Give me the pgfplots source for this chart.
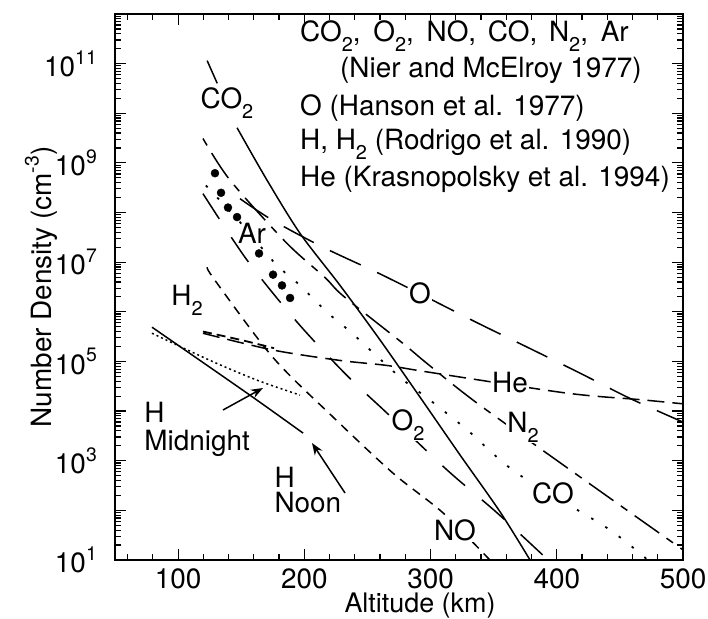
\documentclass[border=0pt]{standalone}
\usepackage{fontspec}
\setmainfont{TeX Gyre Heros}
\usepackage{pgfplots}
\pgfplotsset{compat=1.18}
\usetikzlibrary{arrows.meta}
\newcommand\sups[1]{\raisebox{0.45em}{\fontsize{19.5}{20}\selectfont #1}}
\newcommand\sub[1]{\raisebox{-0.35em}{\fontsize{20}{20}\selectfont #1}}
\begin{document}
\fontsize{28}{30}\selectfont
\begin{tikzpicture}[x=1bp,y=1bp]
\useasboundingbox (0,0) rectangle (708,619);
\begin{axis}[
 at={(115bp,59bp)}, anchor=south west, scale only axis,
 width=568bp, height=546bp,
 ymode=log, xmin=50, xmax=500, ymin=1e1, ymax=1e12,
 xtick={100,200,300,400,500}, xticklabels={100,200,300,400,500},
 minor xtick={60,80,...,480},
 ytick={1e1,1e2,1e3,1e4,1e5,1e6,1e7,1e8,1e9,1e10,1e11,1e12},
 yticklabels={{10\sups{1}},{},{10\sups{3}},{},{10\sups{5}},{},{10\sups{7}},{},{10\sups{9}},{},{10\sups{11}},{}},
 tick align=inside,
 major tick length=11bp, minor tick length=6bp,
 every tick/.style={black, line width=1.2bp},
 axis line style={line width=2bp},
 ticklabel style={font=\fontsize{28}{30}\selectfont, inner sep=0pt},
 xticklabel style={anchor=north, yshift=-9bp},
 yticklabel style={anchor=east, xshift=-18bp},
 clip=true,
]
% CO2
\addplot[line width=1.5bp, smooth] coordinates {(123,1.15e11) (131,4.0e10)};
\addplot[line width=1.5bp, smooth] coordinates {(146.7,5.1e9) (170.4,4.5e8) (196.6,3.8e7) (228.3,3.4e6) (260,2.7e5) (291.7,1.9e4) (323.4,1.3e3) (355.1,9.3e1) (378.8,1e1)};
% O
\addplot[line width=1.5bp, smooth, dash pattern=on 34bp off 18bp] coordinates {(149,1.9e8) (175.2,6.9e7) (214.8,2.0e7) (257.6,6.2e6) (291.7,2.3e6) (337.6,5.9e5) (377.3,1.9e5) (418.5,5.8e4) (458,1.8e4) (500,6.0e3)};
% O2
\addplot[line width=1.5bp, smooth, dash pattern=on 30bp off 22bp] coordinates {(119.7,2.4e8) (154.6,1.1e7) (195,5.9e5) (233.8,5.2e4) (265.5,9.1e3) (313.1,6.5e2) (352.7,8.9e1) (393.1,1e1)};
% N2
\addplot[line width=1.5bp, smooth, dash pattern=on 8bp off 9bp on 30bp off 9bp] coordinates {(119.7,3.1e9) (141.1,4.5e8) (185.5,2.5e7) (216.4,4.9e6) (230.7,2.1e6) (278.2,2.3e5) (297.2,9.1e4) (336.8,1.45e4) (418.5,4.7e2) (500,1.6e1)};
% CO
\addplot[line width=1.8bp, smooth, dash pattern=on 2.5bp off 14bp] coordinates {(122,3.5e8) (150,6.0e7) (176.8,9.5e6) (196.6,3.4e6) (218,9.8e5) (237.8,3.7e5) (275.8,4.8e4) (299.6,1.66e4) (328.9,4.2e3) (368.5,5.6e2) (439.9,4.4e1) (472,1e1)};
% NO
\addplot[line width=1.5bp, smooth, dash pattern=on 9bp off 7bp] coordinates {(122.9,7.9e6) (129.2,4.3e6) (175.2,1.2e5) (222.7,7.6e3) (270.3,5.6e2) (309.9,8.9e1) (347,1e1)};
% H2
\addplot[line width=1.8bp, smooth, dash pattern=on 9bp off 5bp] coordinates {(119.7,4.0e5) (150,2.7e5) (176,1.85e5)};
% He
\addplot[line width=1.5bp, smooth, dash pattern=on 17bp off 8bp] coordinates {(119.7,3.7e5) (175,1.7e5) (228,1.05e5) (265.5,8.3e4) (300,6.0e4) (408,2.3e4) (466,1.7e4) (500,1.4e4)};
% H noon
\addplot[line width=1.5bp, smooth] coordinates {(79.3,4.9e5) (154.6,2.3e4) (199,3.6e3)};
% H midnight
\addplot[line width=1.5bp, smooth, dash pattern=on 2bp off 3bp] coordinates {(79.3,3.7e5) (125.3,1.05e5) (162.5,4.2e4) (196.6,2.1e4)};
% Ar
\addplot[only marks, mark=*, mark size=4bp] coordinates {(129.2,6.2e8) (134,2.5e8) (139.5,1.26e8) (146.7,8.1e7) (164.1,1.5e7) (175.2,5.6e6) (182.3,3.4e6) (188.7,1.9e6)};
\end{axis}
% axis titles
\node[anchor=base, inner sep=0pt, font=\fontsize{27}{29}\selectfont] at (420,6.5) {Altitude (km)};
\node[rotate=90] at (41,332) {Number Density (cm\sups{-3})};
% curve labels
\node at (227,516) {CO\sub{2}};
\node at (252,386) {Ar};
\node at (187,319) {H\sub{2}};
\node[fill=white, inner sep=1pt] at (420,326) {O};
\node[fill=white, inner sep=1pt] at (510,236) {He};
\node[fill=white, inner sep=1pt] at (523,192) {N\sub{2}};
\node[fill=white, inner sep=1pt] at (408,194) {O\sub{2}};
\node[fill=white, inner sep=1pt] at (553,126) {CO};
\node[fill=white, inner sep=1pt] at (455,89) {NO};
\node[anchor=west] at (135,207) {H};
\node[anchor=west] at (135,176) {Midnight};
\node[anchor=west] at (265,142) {H};
\node[anchor=west] at (265,116) {Noon};
\draw[line width=1.5bp, -{Stealth[length=12bp,width=9bp]}] (223,209) -- (263,231);
\draw[line width=1.5bp, -{Stealth[length=12bp,width=9bp]}] (345,126) -- (312,176);
% reference text
\node[anchor=base west, inner sep=0pt] at (300,577) {CO\sub{2},\hspace{5bp} O\sub{2},\hspace{5bp} NO,\hspace{4bp} CO,\hspace{4bp} N\sub{2},\hspace{5bp} Ar};
\node[anchor=base west, inner sep=0pt] at (340,541) {(Nier and McElroy 1977)};
\node[anchor=base west, inner sep=0pt] at (300,503) {O (Hanson et al. 1977)};
\node[anchor=base west, inner sep=0pt] at (300,469) {H, H\sub{2} (Rodrigo et al. 1990)};
\node[anchor=base west, inner sep=0pt] at (300,432) {He (Krasnopolsky et al. 1994)};
\end{tikzpicture}
\end{document}
